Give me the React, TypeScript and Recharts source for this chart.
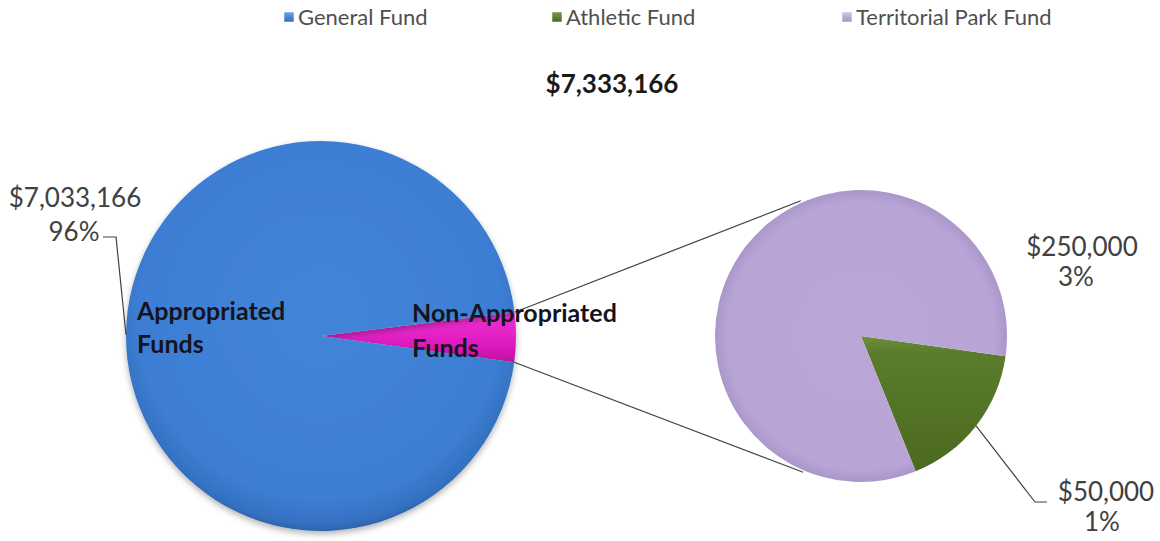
import React from 'react';
import { PieChart, Pie, Cell, Customized } from 'recharts';

const leftNames = ['Non-Appropriated Funds', 'Appropriated Funds'];
const leftValues = [300000, 7033166];
const rightNames = ['Athletic Fund', 'Territorial Park Fund'];
const rightValues = [50000, 250000];
const legendLabels = ['General Fund', 'Athletic Fund', 'Territorial Park Fund'];

const leftData = leftNames.map((name, i) => ({ name, value: leftValues[i] }));
const rightData = rightNames.map((name, i) => ({ name, value: rightValues[i] }));
const grandTotal = leftValues.reduce((a, b) => a + b, 0);

const W = 1160;
const H = 541;
const FONT = 'Lato, "DejaVu Sans", sans-serif';

// geometry
const L = { cx: 321, cy: 336, r: 195, start: 7, end: -353 };
const R = { cx: 861, cy: 336, r: 146, start: -8, end: -368 };

const leftColors = ['url(#gMagenta)', 'url(#gBlue)'];
const rightColors = ['url(#gGreen)', 'url(#gPurple)'];
const legendColors = ['url(#gLegBlue)', 'url(#gLegGreen)', 'url(#gLegPurple)'];
const legendX = [284, 552, 842];

const RAD = Math.PI / 180;
const money = (v: number) => '$' + v.toLocaleString('en-US');
const pct = (v: number) => Math.round((v / grandTotal) * 100) + '%';

const polar = (cx: number, cy: number, r: number, a: number) => ({
  x: cx + r * Math.cos(a * RAD),
  y: cy - r * Math.sin(a * RAD),
});

const valueStyle = { fontFamily: FONT, fontSize: 26, fill: '#404040' } as const;
const nameStyle = { fontFamily: FONT, fontSize: 25, fontWeight: 700, fill: '#14141e' } as const;

const renderLeftLabel = (p: any) => {
  const { cx, cy, midAngle, outerRadius, index, value } = p;
  if (index === 0) {
    return (
      <g key={`ll-${index}`}>
        <text x={cx + 91} y={cy - 14} style={nameStyle}>Non-Appropriated</text>
        <text x={cx + 91} y={cy + 21} style={nameStyle}>Funds</text>
      </g>
    );
  }
  const P = polar(cx, cy, outerRadius, midAngle);
  return (
    <g key={`ll-${index}`}>
      <text x={cx - 184} y={cy - 16} style={nameStyle}>Appropriated</text>
      <text x={cx - 184} y={cy + 17} style={nameStyle}>Funds</text>
      <polyline
        points={`${P.x},${P.y} ${cx - 205},${cy - 99} ${cx - 218},${cy - 99}`}
        fill="none"
        stroke="#404040"
        strokeWidth={1.2}
      />
      <text x={cx - 246} y={cy - 129} textAnchor="middle" style={valueStyle}>{money(value)}</text>
      <text x={cx - 247} y={cy - 95} textAnchor="middle" style={valueStyle}>{pct(value)}</text>
    </g>
  );
};

const renderRightLabel = (p: any) => {
  const { cx, cy, midAngle, outerRadius, index, value } = p;
  if (index === 0) {
    const P = polar(cx, cy, outerRadius, midAngle);
    return (
      <g key={`rl-${index}`}>
        <polyline
          points={`${P.x},${P.y} ${cx + 174},${cy + 166} ${cx + 186},${cy + 166}`}
          fill="none"
          stroke="#404040"
          strokeWidth={1.2}
        />
        <text x={cx + 245} y={cy + 165} textAnchor="middle" style={valueStyle}>{money(value)}</text>
        <text x={cx + 241} y={cy + 195} textAnchor="middle" style={valueStyle}>{pct(value)}</text>
      </g>
    );
  }
  return (
    <g key={`rl-${index}`}>
      <text x={cx + 221} y={cy - 80} textAnchor="middle" style={valueStyle}>{money(value)}</text>
      <text x={cx + 215} y={cy - 50} textAnchor="middle" style={valueStyle}>{pct(value)}</text>
    </g>
  );
};

const Decorations = () => {
  const a1 = polar(L.cx, L.cy, L.r, L.start);
  const b1 = polar(R.cx, R.cy, R.r + 2, 114);
  const a2 = polar(L.cx, L.cy, L.r, L.start - (leftValues[0] / grandTotal) * 360);
  const b2 = polar(R.cx, R.cy, R.r + 2, -113);
  return (
    <g>
      <line x1={a1.x} y1={a1.y} x2={b1.x} y2={b1.y} stroke="#404040" strokeWidth={1.2} />
      <line x1={a2.x} y1={a2.y} x2={b2.x} y2={b2.y} stroke="#404040" strokeWidth={1.2} />
      <text
        x={612}
        y={93}
        textAnchor="middle"
        style={{ fontFamily: FONT, fontSize: 26, fontWeight: 700, fill: '#1a1a1a' }}
      >
        {money(grandTotal)}
      </text>
      {legendLabels.map((lab, i) => (
        <g key={lab}>
          <rect x={legendX[i]} y={12} width={10} height={10} fill={legendColors[i]} stroke="#ffffff" strokeWidth={0.5} />
          <text
            x={legendX[i] + 14}
            y={25}
            style={{ fontFamily: FONT, fontSize: 22, fill: '#505050' }}
          >
            {lab}
          </text>
        </g>
      ))}
    </g>
  );
};

export default function App() {
  return (
    <div style={{ position: 'absolute', left: 0, top: 0, width: W, height: H, background: '#ffffff' }}>
      <svg width={0} height={0} style={{ position: 'absolute' }}>
        <defs>
          <radialGradient id="gBlue" cx="50%" cy="45%" r="55%">
            <stop offset="0%" stopColor="#4385d8" />
            <stop offset="85%" stopColor="#3c7ed4" />
            <stop offset="97%" stopColor="#3470c0" />
            <stop offset="100%" stopColor="#2c62aa" />
          </radialGradient>
          <linearGradient id="gMagenta" x1="0" y1="0" x2="0" y2="1">
            <stop offset="0%" stopColor="#f034d4" />
            <stop offset="60%" stopColor="#e01cc2" />
            <stop offset="100%" stopColor="#c010a2" />
          </linearGradient>
          <radialGradient id="gPurple" cx="50%" cy="50%" r="52%">
            <stop offset="0%" stopColor="#baa7d7" />
            <stop offset="88%" stopColor="#b8a5d6" />
            <stop offset="97%" stopColor="#a995c9" />
            <stop offset="100%" stopColor="#9885b8" />
          </radialGradient>
          <linearGradient id="gGreen" x1="0" y1="0" x2="0" y2="1">
            <stop offset="0%" stopColor="#6e8f3c" />
            <stop offset="12%" stopColor="#5b7c2b" />
            <stop offset="100%" stopColor="#4b6920" />
          </linearGradient>
          <linearGradient id="gLegBlue" x1="0" y1="0" x2="0" y2="1">
            <stop offset="0%" stopColor="#6ea2e6" />
            <stop offset="100%" stopColor="#2f6cbc" />
          </linearGradient>
          <linearGradient id="gLegGreen" x1="0" y1="0" x2="0" y2="1">
            <stop offset="0%" stopColor="#7c9a4c" />
            <stop offset="100%" stopColor="#4b6920" />
          </linearGradient>
          <linearGradient id="gLegPurple" x1="0" y1="0" x2="0" y2="1">
            <stop offset="0%" stopColor="#d2c4e6" />
            <stop offset="100%" stopColor="#a894c8" />
          </linearGradient>
          <filter id="shadow" x="-10%" y="-10%" width="120%" height="125%">
            <feDropShadow dx="0" dy="3" stdDeviation="3" floodColor="#000000" floodOpacity="0.3" />
          </filter>
        </defs>
      </svg>
      <PieChart width={W} height={H} margin={{ top: 0, right: 0, bottom: 0, left: 0 }}>
        <Pie
          data={leftData}
          dataKey="value"
          nameKey="name"
          cx={L.cx}
          cy={L.cy}
          outerRadius={L.r}
          startAngle={L.start}
          endAngle={L.end}
          stroke="none"
          isAnimationActive={false}
          label={renderLeftLabel}
          labelLine={false}
          style={{ filter: 'url(#shadow)' }}
        >
          {leftData.map((d, i) => (
            <Cell key={d.name} fill={leftColors[i]} />
          ))}
        </Pie>
        <Pie
          data={rightData}
          dataKey="value"
          nameKey="name"
          cx={R.cx}
          cy={R.cy}
          outerRadius={R.r}
          startAngle={R.start}
          endAngle={R.end}
          stroke="none"
          isAnimationActive={false}
          label={renderRightLabel}
          labelLine={false}
        >
          {rightData.map((d, i) => (
            <Cell key={d.name} fill={rightColors[i]} />
          ))}
        </Pie>
        <Customized component={Decorations} />
      </PieChart>
    </div>
  );
}
